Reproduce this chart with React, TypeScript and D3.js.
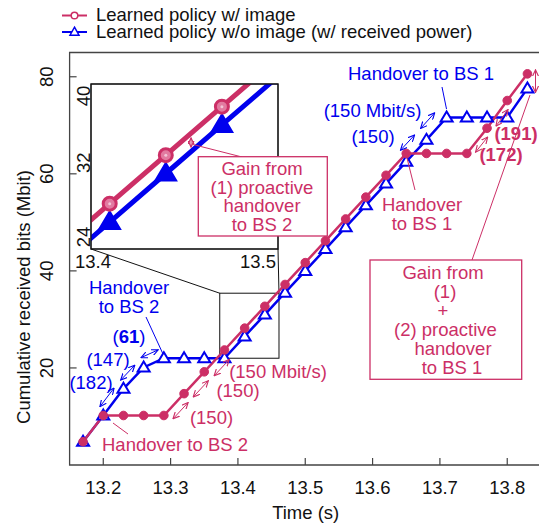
import * as d3 from 'd3';

// sample times (s), one marker every 30 ms
const times = [13.17, 13.2, 13.23, 13.26, 13.29, 13.32, 13.35, 13.38, 13.41, 13.44, 13.47, 13.5,
  13.53, 13.56, 13.59, 13.62, 13.65, 13.68, 13.71, 13.74, 13.77, 13.8, 13.83];
// cumulative received bits (Mbit)
const withImage = [4.8, 10.2, 10.2, 10.2, 10.2, 14.7, 19.2, 23.7, 28.2, 32.7, 37.2, 41.7,
  46.2, 50.7, 55.2, 59.7, 64.2, 64.2, 64.2, 64.2, 69.4, 75.1, 80.6];
const withoutImage = [4.8, 10.2, 15.7, 20.1, 22.0, 22.0, 22.0, 22.0, 26.5, 31.0, 35.5, 40.0,
  44.5, 49.0, 53.5, 58.0, 62.5, 67.0, 71.6, 71.6, 71.6, 71.6, 77.6];

const xTicks = [13.2, 13.3, 13.4, 13.5, 13.6, 13.7, 13.8];
const yTicks = [20, 40, 60, 80];
const insetXTicks = [13.4, 13.5];
const insetYTicks = [24, 32, 40];
const zoomBoxT = [13.373, 13.461];
const zoomBoxV = [22.0, 35.4];

const RED = '#cc2f66';
const BLUE = '#0000ee';
const FONT = '"Liberation Sans", Arial, Helvetica, sans-serif';

const x = d3.scaleLinear().domain([13.15, 13.85]).range([69.6, 540.9]);
const y = d3.scaleLinear().domain([0, 85]).range([465, 52.5]);
const xi = d3.scaleLinear().domain([13.4, 13.5]).range([91, 278]);
const yi = d3.scaleLinear().domain([24, 39.3]).range([249, 84]);

function tri(w: number, h: number) {
  return `M0,${-h * 0.6}L${w / 2},${h * 0.4}L${-w / 2},${h * 0.4}Z`;
}

function segArrow(vals: number[], i: number, off: number, shrink: number) {
  const x1 = x(times[i]), y1 = y(vals[i]), x2 = x(times[i + 1]), y2 = y(vals[i + 1]);
  const dx = x2 - x1, dy = y2 - y1, L = Math.hypot(dx, dy);
  const mx = (x1 + x2) / 2 + (dy / L) * off, my = (y1 + y2) / 2 + (-dx / L) * off;
  return { x1: mx - dx * shrink / 2, y1: my - dy * shrink / 2, x2: mx + dx * shrink / 2, y2: my + dy * shrink / 2 };
}

function interp(vals: number[], t: number) {
  return d3.scaleLinear().domain(times).range(vals)(t);
}

export default function App() {
  const line = d3.line<number>().x((_, i) => x(times[i])).y(d => y(d));
  const lineIn = d3.line<number>().x((_, i) => xi(times[i])).y(d => yi(d));

  const blueArrows = [[1, 8, 0.7], [2, 8, 0.7], [3, 10, 0.85], [16, 12, 0.7], [17, 12, 0.7]].map(([i, o, s]) => segArrow(withoutImage, i, o, s));
  const redArrows = [[4, -9, 0.75], [5, -9, 0.75], [6, -10, 0.75], [19, -6, 0.6], [20, -6, 0.6]].map(([i, o, s]) => segArrow(withImage, i, o, s));

  // gain arrows
  const tg = 13.4535;
  const gr = yi(interp(withImage, tg)), gb = yi(interp(withoutImage, tg));
  const gm = (gr + gb) / 2, gh = (gb - gr) * 0.25;
  const tg2 = 13.842;

  const txt = (s: string, cx: number, by: number, color: string, extra: any = {}) => (
    <text x={cx} y={by} fill={color} textAnchor="middle" {...extra}>{s}</text>
  );

  return (
    <svg width={539} height={523} style={{ position: 'absolute', left: 0, top: 0, background: '#fff' }}
      fontFamily={FONT} fontSize={18.5}>
      <defs>
        <marker id="ar" viewBox="0 0 8 8" refX="7.5" refY="4" markerWidth="7" markerHeight="7" orient="auto-start-reverse" markerUnits="userSpaceOnUse">
          <path d="M0,0.5L7.5,4L0,7.5" fill="none" stroke={RED} strokeWidth={1.3} />
        </marker>
        <marker id="ab" viewBox="0 0 8 8" refX="7.5" refY="4" markerWidth="7" markerHeight="7" orient="auto-start-reverse" markerUnits="userSpaceOnUse">
          <path d="M0,0.5L7.5,4L0,7.5" fill="none" stroke={BLUE} strokeWidth={1.3} />
        </marker>
        <clipPath id="insetClip"><rect x={91} y={84} width={187} height={165} /></clipPath>
      </defs>

      {/* legend */}
      <line x1={62} x2={87} y1={15.5} y2={15.5} stroke={RED} strokeWidth={2} />
      <circle cx={74.5} cy={15.5} r={3.3} fill="#fff" stroke={RED} strokeWidth={1.5} />
      <text x={96} y={21} fill="#111">Learned policy w/ image</text>
      <line x1={62} x2={87} y1={32} y2={32} stroke={BLUE} strokeWidth={2} />
      <path d={tri(9, 8)} transform="translate(74.5,32)" fill="#fff" stroke={BLUE} strokeWidth={1.5} />
      <text x={96} y={38} fill="#111">Learned policy w/o image (w/ received power)</text>

      {/* frame */}
      <path d={`M${x(13.85)},${y(85)}H${x(13.15)}V${y(0)}H${x(13.85)}`} fill="none" stroke="#444" strokeWidth={1.3} />
      {xTicks.map(t => (
        <g key={t}>
          <line x1={x(t)} x2={x(t)} y1={y(0)} y2={y(0) - 7} stroke="#444" strokeWidth={1.2} />
          <text x={x(t)} y={494} textAnchor="middle" fill="#111">{t.toFixed(1)}</text>
        </g>
      ))}
      {yTicks.map(v => (
        <g key={v}>
          <line x1={x(13.15)} x2={x(13.15) + 7} y1={y(v)} y2={y(v)} stroke="#444" strokeWidth={1.2} />
          <text transform={`translate(53,${y(v)}) rotate(-90)`} textAnchor="middle" fill="#111">{v}</text>
        </g>
      ))}
      <text x={305.7} y={519} textAnchor="middle" fill="#111">Time (s)</text>
      <text transform="translate(30,297) rotate(-90)" textAnchor="middle" fill="#111">Cumulative received bits (Mbit)</text>

      {/* zoom rectangle and connectors */}
      <rect x={x(zoomBoxT[0])} y={y(zoomBoxV[1])} width={x(zoomBoxT[1]) - x(zoomBoxT[0])} height={y(zoomBoxV[0]) - y(zoomBoxV[1])}
        fill="none" stroke="#111" strokeWidth={1} />
      <line x1={xi(13.4)} y1={yi(24)} x2={x(zoomBoxT[0])} y2={y(zoomBoxV[1])} stroke="#111" strokeWidth={1} />
      <line x1={xi(13.5)} y1={yi(24)} x2={x(zoomBoxT[1])} y2={y(zoomBoxV[1])} stroke="#111" strokeWidth={1} />

      {/* main series */}
      <path d={line(withoutImage) || ''} fill="none" stroke={BLUE} strokeWidth={2.5} />
      <path d={line(withImage) || ''} fill="none" stroke={RED} strokeWidth={2.5} />
      {withoutImage.map((v, i) => (
        <path key={i} d={tri(12, 10)} transform={`translate(${x(times[i])},${y(v)})`} fill="#fff" stroke={BLUE} strokeWidth={2} />
      ))}
      {withImage.map((v, i) => (
        <circle key={i} cx={x(times[i])} cy={y(v)} r={4.3} fill={RED} stroke={RED} strokeWidth={1} />
      ))}

      {/* rate arrows */}
      {blueArrows.map((a, i) => (
        <line key={i} {...a} stroke={BLUE} strokeWidth={1} markerStart="url(#ab)" markerEnd="url(#ab)" />
      ))}
      {redArrows.map((a, i) => (
        <line key={i} {...a} stroke={RED} strokeWidth={1} markerStart="url(#ar)" markerEnd="url(#ar)" />
      ))}

      {/* blue annotations */}
      {txt('Handover', 129, 294, BLUE)}
      {txt('to BS 2', 129, 313, BLUE)}
      <line x1={146} y1={317} x2={163} y2={354} stroke={BLUE} strokeWidth={1} />
      <text x={129} y={343} fill={BLUE} textAnchor="middle">(<tspan fontWeight="bold">61</tspan>)</text>
      {txt('(147)', 108, 366, BLUE)}
      {txt('(182)', 91, 389, BLUE)}
      {txt('Handover to BS 1', 421, 80, BLUE)}
      <line x1={442} y1={87} x2={446.5} y2={109} stroke={BLUE} strokeWidth={1} />
      {txt('(150 Mbit/s)', 372.5, 117, BLUE)}
      {txt('(150)', 373, 143, BLUE)}

      {/* red annotations */}
      {txt('Handover to BS 2', 175, 451, RED)}
      <line x1={113} y1={423} x2={128} y2={434} stroke={RED} strokeWidth={1} />
      {txt('(150)', 211.5, 424, RED)}
      {txt('(150)', 238, 397, RED)}
      {txt('(150 Mbit/s)', 278, 378, RED)}
      {txt('Handover', 422, 211, RED)}
      {txt('to BS 1', 422, 230, RED)}
      <line x1={415} y1={190} x2={407} y2={158} stroke={RED} strokeWidth={1} />
      {txt('(172)', 501, 161, RED, { fontWeight: 'bold' })}
      {txt('(191)', 516, 140, RED, { fontWeight: 'bold' })}

      {/* total gain */}
      <line x1={x(tg2)} x2={x(tg2)} y1={y(interp(withImage, 13.83)) - 4} y2={y(interp(withoutImage, 13.83)) + 4}
        stroke={RED} strokeWidth={1} markerStart="url(#ar)" markerEnd="url(#ar)" />
      <line x1={530} y1={95} x2={472} y2={260} stroke={RED} strokeWidth={1} />
      <rect x={370} y={260} width={151.7} height={119.3} fill="#fff" stroke={RED} strokeWidth={1.3} />
      {txt('Gain from', 443, 279, RED)}
      {txt('(1)', 445, 298, RED)}
      {txt('+', 443, 317, RED)}
      {txt('(2) proactive', 445.5, 336, RED)}
      {txt('handover', 453, 355, RED)}
      {txt('to BS 1', 452, 374, RED)}

      {/* inset */}
      <rect x={91} y={84} width={187} height={165} fill="#fff" stroke="#111" strokeWidth={1} />
      <g clipPath="url(#insetClip)">
        <path d={lineIn(withoutImage) || ''} fill="none" stroke={BLUE} strokeWidth={5} />
        <path d={lineIn(withImage) || ''} fill="none" stroke={RED} strokeWidth={5} />
        {withoutImage.map((v, i) => (
          <path key={i} d={tri(19, 16)} transform={`translate(${xi(times[i])},${yi(v)})`} fill={BLUE} stroke={BLUE} strokeWidth={3} />
        ))}
        {withImage.map((v, i) => (
          <g key={i}>
            <circle cx={xi(times[i])} cy={yi(v)} r={6.5} fill="#e27aa0" stroke={RED} strokeWidth={3} />
            <circle cx={xi(times[i])} cy={yi(v)} r={1.5} fill="#f3c4d6" />
          </g>
        ))}
        <line x1={xi(tg)} x2={xi(tg)} y1={gm - gh} y2={gm + gh} stroke={RED} strokeWidth={1} markerStart="url(#ar)" markerEnd="url(#ar)" />
      </g>
      <rect x={91} y={84} width={187} height={165} fill="none" stroke="#111" strokeWidth={1.2} />
      {insetXTicks.map((t, i) => (
        <text key={t} x={i === 0 ? xi(t) + 2 : xi(t) - 20} y={268} textAnchor="middle" fill="#111">{t.toFixed(1)}</text>
      ))}
      {insetYTicks.map(v => (
        <text key={v} transform={`translate(90,${Math.min(Math.max(yi(v), 96), 237)}) rotate(-90)`} textAnchor="middle" fill="#111">{v}</text>
      ))}
      <line x1={xi(tg) + 2} y1={gm + 2} x2={242} y2={157} stroke={RED} strokeWidth={1} />
      <rect x={198.3} y={156.7} width={129} height={79.3} fill="#fff" stroke={RED} strokeWidth={1.3} />
      {txt('Gain from', 262, 175, RED)}
      {txt('(1) proactive', 262, 193.5, RED)}
      {txt('handover', 262, 212, RED)}
      {txt('to BS 2', 262, 230.5, RED)}
    </svg>
  );
}
